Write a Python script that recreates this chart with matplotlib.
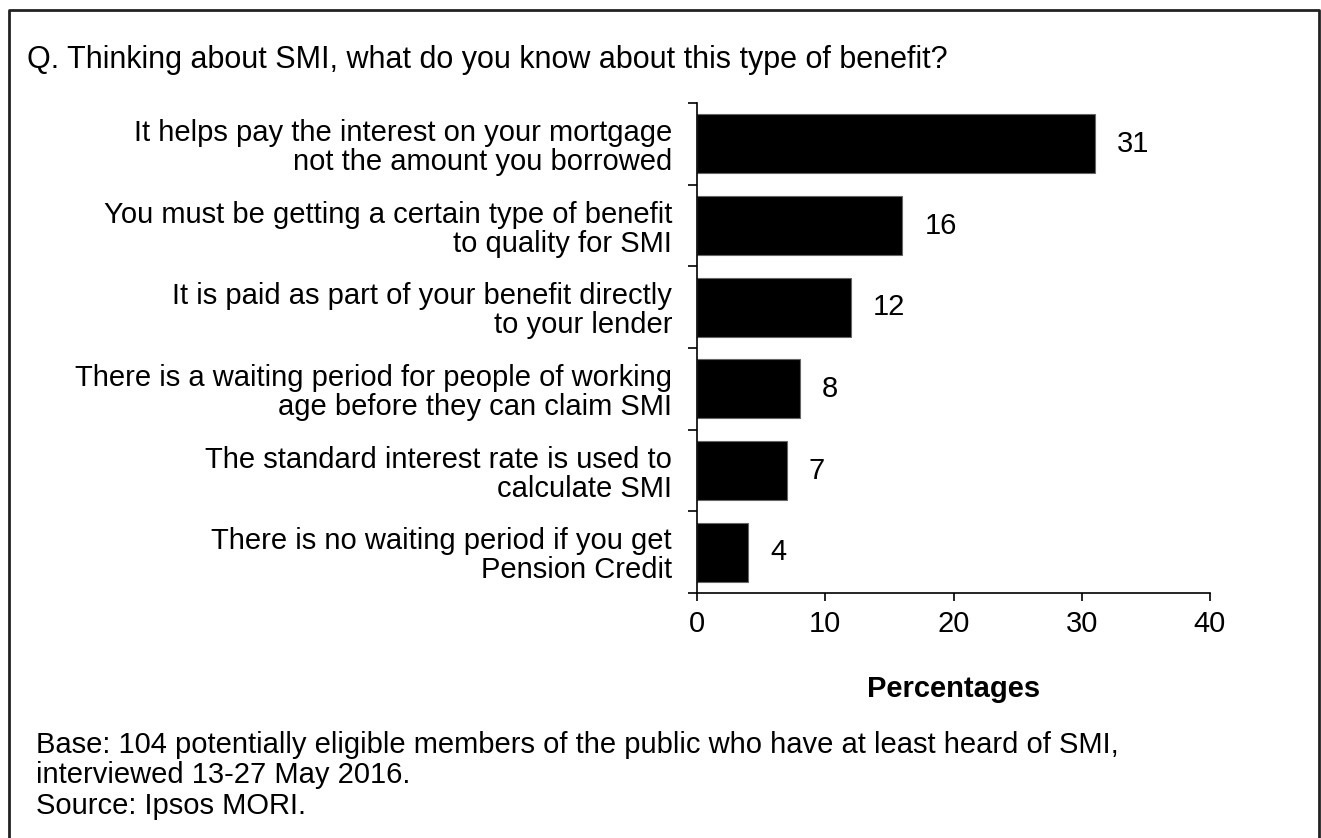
import numpy as np
import matplotlib.pyplot as plt
from matplotlib.lines import Line2D

# survey answers, top to bottom
labels = [
    "It helps pay the interest on your mortgage\nnot the amount you borrowed",
    "You must be getting a certain type of benefit\nto quality for SMI",
    "It is paid as part of your benefit directly\nto your lender",
    "There is a waiting period for people of working\nage before they can claim SMI",
    "The standard interest rate is used to\ncalculate SMI",
    "There is no waiting period if you get\nPension Credit",
]
values = [31, 16, 12, 8, 7, 4]
xticks = [0, 10, 20, 30, 40]

plt.rcParams['font.family'] = ['Liberation Sans', 'DejaVu Sans']
fs = 21

fig = plt.figure(figsize=(13.21, 8.38), dpi=100)
ax = fig.add_axes([697/1321, 1-593/838, (1210-697)/1321, (593-103)/838])

n = len(values)
ypos = np.arange(n)[::-1]
ax.barh(ypos, values, height=0.72, color='black', edgecolor='#666666', linewidth=0.8)
for y, v in zip(ypos, values):
    ax.annotate(str(v), (v, y), xytext=(16, 0), textcoords='offset points',
                ha='left', va='center', fontsize=fs)

ax.set_xlim(0, 40)
ax.set_ylim(-0.5, n - 0.5)
ax.set_xticks(xticks)
ax.set_xticklabels([str(t) for t in xticks], fontsize=fs)
ax.set_yticks(ypos)
ax.set_yticklabels(labels, fontsize=fs, ha='right', linespacing=1.05)
ax.set_yticks(np.arange(n + 1) - 0.5, minor=True)
ax.tick_params(axis='y', which='major', length=0, pad=18)
ax.tick_params(axis='y', which='minor', length=6.5, width=1.2)
ax.tick_params(axis='x', length=6, width=1.2, pad=6)
for s in ['top', 'right']:
    ax.spines[s].set_visible(False)
for s in ['left', 'bottom']:
    ax.spines[s].set_linewidth(1.2)
ax.set_xlabel("Percentages", fontsize=fs, fontweight='bold', labelpad=27)

fig.text(27/1321, 1-60/838, "Q. Thinking about SMI, what do you know about this type of benefit?",
         fontsize=22, va='center', ha='left')
fig.text(36/1321, 1-745/838, "Base: 104 potentially eligible members of the public who have at least heard of SMI,",
         fontsize=fs, va='center', ha='left')
fig.text(36/1321, 1-775/838, "interviewed 13-27 May 2016.", fontsize=fs, va='center', ha='left')
fig.text(36/1321, 1-806/838, "Source: Ipsos MORI.", fontsize=fs, va='center', ha='left')

# frame around the whole figure (open at the bottom)
x0, x1, y0 = 9/1321, 1319/1321, 1-10/838
fig.add_artist(Line2D([x0, x0, x1, x1], [0, y0, y0, 0], color='#222222', linewidth=2,
                      transform=fig.transFigure))

fig.savefig("out.png", dpi=100)
